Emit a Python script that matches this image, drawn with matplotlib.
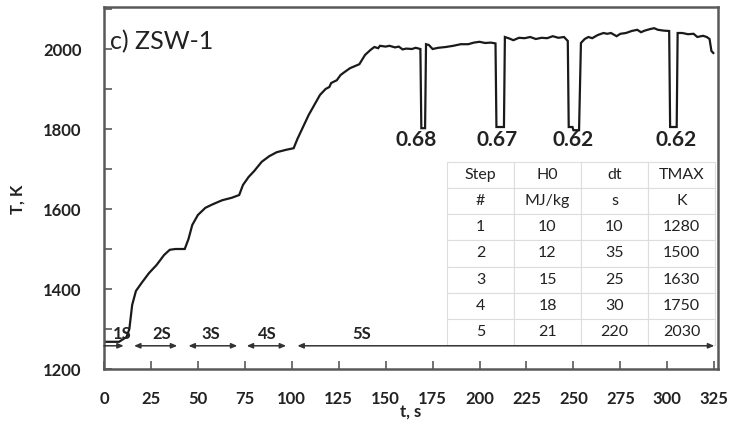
import matplotlib
matplotlib.use("Agg")
import matplotlib.pyplot as plt
from matplotlib.ticker import MultipleLocator

plt.rcParams['font.family'] = ['Lato', 'DejaVu Sans']

# ---- data ----
t = [0, 8, 12, 13.5, 15, 17, 20, 24, 28, 32, 35, 38, 43, 45, 47, 50, 54, 58, 63, 68, 72,
     74, 77, 80, 84, 88, 92, 97, 101, 103, 106, 109, 112, 115, 118, 120, 121, 124, 126,
     128, 131, 134, 136, 139, 142, 144, 146, 147, 150, 152, 155, 157, 159, 161, 164, 166,
     168.5, 169, 171, 171.5, 173, 175, 178, 182, 186, 190, 194, 197, 200, 203, 206, 208.5,
     209, 213, 213.5, 216, 218, 221, 224, 227, 230, 233, 236, 239, 242, 245, 247,
     247.5, 249.5, 250, 253, 254, 256, 258, 260, 263, 266, 268, 270, 273, 275, 278, 281,
     284, 286, 288, 291, 293, 295, 298, 301, 301.5, 305, 305.5, 308, 311, 314, 316, 319,
     321, 322.5, 323.5, 324.5]
T = [1268, 1268, 1280, 1300, 1360, 1395, 1415, 1440, 1460, 1485, 1498, 1500, 1500, 1525,
     1560, 1585, 1603, 1612, 1622, 1628, 1635,
     1660, 1680, 1695, 1718, 1732, 1742, 1748, 1752, 1775, 1805, 1835, 1860, 1885, 1900,
     1905, 1915, 1922, 1935, 1942, 1952, 1958, 1962, 1985, 1998, 2005, 2002, 2008, 2006,
     2008, 2004, 2006, 1999, 2001, 2000, 2003,
     2000, 1802, 1802, 2012, 2010, 2000, 2003, 2005, 2008, 2012, 2012, 2016, 2018, 2015,
     2016, 2014,
     1805, 1805, 2030, 2026, 2022, 2028, 2027, 2030, 2025, 2028, 2027, 2032, 2028, 2030,
     2020,
     1805, 1805, 1797, 1797, 2015, 2025, 2030, 2027, 2035, 2040, 2038, 2040, 2032, 2038,
     2040, 2045, 2048, 2042, 2046, 2050, 2052, 2048, 2046, 2045, 1805, 1805, 2040, 2040,
     2037, 2038, 2030, 2033, 2030, 2025, 1995, 1990]

drop_t = [166, 209.5, 250, 304.5]
drop_labels = ['0.68', '0.67', '0.62', '0.62']

step_bounds = [(0, 10.5), (16, 39), (45, 71), (76, 97), (103, 325)]
step_label_t = [9.5, 31, 57, 87, 137.5]
step_labels = ['1S', '2S', '3S', '4S', '5S']

table_header = [['Step', 'H0', 'dt', 'TMAX'], ['#', 'MJ/kg', 's', 'K']]
table_steps = ['1', '2', '3', '4', '5']
table_h0 = ['10', '12', '15', '18', '21']
table_dt = ['10', '35', '25', '30', '220']
table_tmax = ['1280', '1500', '1630', '1750', '2030']

# ---- figure ----
fig = plt.figure(figsize=(7.46, 4.26), dpi=100)
ax = fig.add_axes([104/746, 1-369/426, (718-104)/746, (369-7)/426])

txt = '#222222'
ax.plot(t, T, color='#1a1a1a', lw=1.6, solid_joinstyle='miter')

ax.set_xlim(0, 327)
ax.set_ylim(1200, 2105)
ax.xaxis.set_major_locator(MultipleLocator(25))
ax.yaxis.set_major_locator(MultipleLocator(200))
ax.yaxis.set_minor_locator(MultipleLocator(100))
ax.tick_params(axis='both', which='both', direction='in', color='#595959', width=1.2,
               labelsize=12, labelcolor=txt)
ax.tick_params(axis='both', which='major', length=6)
ax.tick_params(axis='y', which='minor', length=6)
for lab in ax.get_xticklabels() + ax.get_yticklabels():
    lab.set_fontweight('bold')
ax.tick_params(axis='x', pad=16)
ax.tick_params(axis='y', pad=16)
for s in ax.spines.values():
    s.set_color('#595959')
    s.set_linewidth(1.8)

ax.set_xlabel('t, s', fontsize=12, fontweight='bold', color=txt, labelpad=-3)
ax.set_ylabel('T, K', fontsize=12, fontweight='bold', color=txt)
ax.yaxis.set_label_coords(-0.128, 0.47)

ax.text(0.01, 0.903, 'c) ZSW-1', transform=ax.transAxes, fontsize=18, color=txt,
        va='center', ha='left')

# step arrows
y_arrow = 1258
for i, (a, b) in enumerate(step_bounds):
    style = '-|>' if i == 0 else '<|-|>'
    ax.annotate('', xy=(b, y_arrow), xytext=(a, y_arrow),
                arrowprops=dict(arrowstyle=style + ',head_length=0.35,head_width=0.15',
                                color='#333333', lw=1.1, shrinkA=0, shrinkB=0))
for x, lab in zip(step_label_t, step_labels):
    ax.text(x, 1288, lab, fontsize=12, fontweight='bold', color=txt, ha='center', va='center')

for x, lab in zip(drop_t, drop_labels):
    ax.text(x, 1772, lab, fontsize=15, fontweight='bold', color=txt, ha='center', va='center')

# table
cells = table_header + [list(r) for r in zip(table_steps, table_h0, table_dt, table_tmax)]
left = (447-104)/614
bottom = (369-345)/362
top = (369-162)/362
tab = ax.table(cellText=cells, cellLoc='center',
               bbox=[left, bottom, 0.995-left, top-bottom])
tab.auto_set_font_size(False)
tab.set_fontsize(11.5)
for (r, c), cell in tab.get_celld().items():
    cell.set_edgecolor('#dddddd')
    cell.set_linewidth(0.8)
    cell.set_facecolor('white')
    cell.get_text().set_color(txt)

fig.savefig('out.png', dpi=100)
